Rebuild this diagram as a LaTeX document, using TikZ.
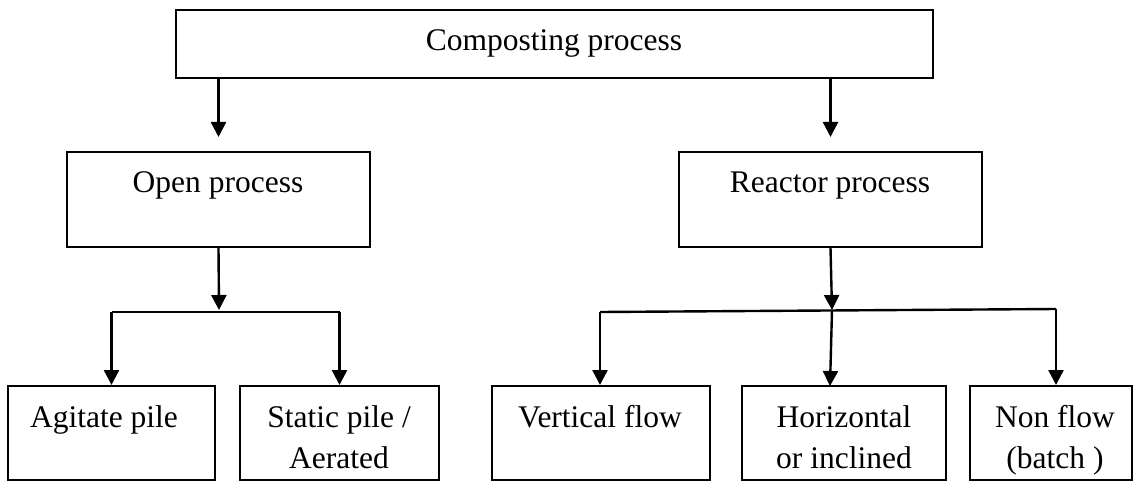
\documentclass[tikz,border=0pt]{standalone}
\usepackage{fontspec}
\setmainfont{Liberation Serif}
\usetikzlibrary{arrows.meta}
\begin{document}
\begin{tikzpicture}[x=1pt,y=-1pt,
  box/.style={draw=black, line width=2pt, rectangle, inner sep=0pt},
  lbl/.style={anchor=base, inner sep=0pt, align=center,
    font=\fontsize{31.5}{41}\selectfont},
  arr/.style={line width=2.4pt, -{Triangle[width=15pt,length=15pt]}},
  link/.style={line width=2.4pt}]
  \useasboundingbox (0,0) rectangle (1134,481);

  % boxes
  \node[box, minimum width=757pt, minimum height=68pt] (top) at (554.5,44) {};
  \node[box, minimum width=303pt, minimum height=95pt] (open) at (218.5,199.5) {};
  \node[box, minimum width=303pt, minimum height=95pt] (reactor) at (830.5,199.5) {};
  \node[box, minimum width=207pt, minimum height=94pt] (agitate) at (111.5,433) {};
  \node[box, minimum width=199pt, minimum height=94pt] (static) at (339.5,433) {};
  \node[box, minimum width=218pt, minimum height=94pt] (vflow) at (601,433) {};
  \node[box, minimum width=204pt, minimum height=94pt] (hflow) at (844,433) {};
  \node[box, minimum width=162pt, minimum height=94pt] (nflow) at (1051,433) {};

  % labels (base anchor sits on the last line)
  \node[lbl] (ttop) at (554,51) {Composting process};
  \node[lbl] (topen) at (218,193) {Open process};
  \node[lbl] (treactor) at (830,193) {Reactor process};
  \node[lbl] (tagitate) at (104,427) {Agitate pile};
  \node[lbl] (tstatic) at (339,468) {Static pile /\\Aerated};
  \node[lbl] (tvflow) at (600,427) {Vertical flow};
  \node[lbl] (thflow) at (844,468) {Horizontal\\or inclined};
  \node[lbl] (tnflow) at (1055,468) {Non flow\\(batch )};

  % branch points
  \coordinate (oj) at (219,312);
  \coordinate (rj) at (832,310);
  \coordinate (rl) at (600,312);
  \coordinate (rr) at (1056,309);
  \coordinate (rm) at (830,386);

  % first level
  \draw[arr] (top.south -| open.north) -- ([yshift=14pt]open.north);
  \draw[arr] (top.south -| reactor.north) -- ([yshift=14pt]reactor.north);

  % open process branch
  \draw[arr] (open.south) -- ([yshift=2pt]oj);
  \draw[link] (oj -| agitate.north) -- (oj -| static.north);
  \draw[arr] (oj -| agitate.north) -- (agitate.north);
  \draw[arr] (oj -| static.north) -- (static.north);

  % reactor process branch
  \draw[arr] (reactor.south) -- (rj);
  \draw[link] (rl) -- (rr);
  \draw[arr] (rl) -- (rl |- vflow.north);
  \draw[arr] (rj) -- (rm);
  \draw[arr] (rr) -- (rr |- nflow.north);
\end{tikzpicture}
\end{document}
